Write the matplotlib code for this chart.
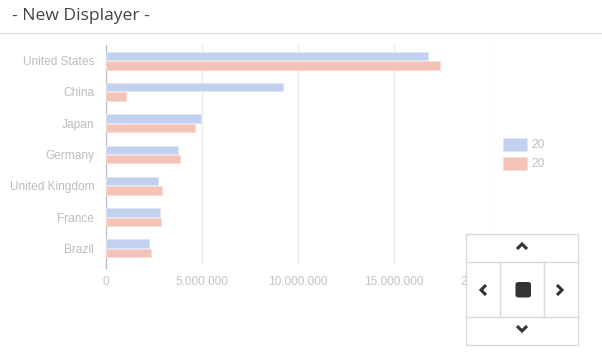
import matplotlib
matplotlib.use("Agg")
import matplotlib.pyplot as plt
import numpy as np
from matplotlib.patches import Rectangle, FancyBboxPatch
from matplotlib.lines import Line2D
from matplotlib.ticker import FuncFormatter

countries = ["United States", "China", "Japan", "Germany", "United Kingdom", "France", "Brazil"]
series_labels = ["20", "20"]
values_a = [16.77e6, 9.22e6, 4.93e6, 3.73e6, 2.69e6, 2.81e6, 2.24e6]
values_b = [17.40e6, 1.03e6, 4.64e6, 3.85e6, 2.92e6, 2.86e6, 2.34e6]
x_ticks = [0, 5e6, 10e6, 15e6, 20e6]

W, H = 602, 361
fig = plt.figure(figsize=(W / 100, H / 100), dpi=100)
plt.rcParams['font.family'] = ['Liberation Sans', 'DejaVu Sans']


def fx(px):
    return px / W


def fy(py):
    return 1 - py / H


# header
fig.text(fx(12), fy(16), "- New Displayer -", fontsize=12.6, color="#444444",
         family="Open Sans", va="center", ha="left")
fig.add_artist(Line2D([0, 1], [fy(33), fy(33)], transform=fig.transFigure,
                      color="#e0e0e0", lw=1))

ax = fig.add_axes([fx(106), fy(264), fx(490) - fx(106), fy(45) - fy(264)])

y = np.arange(len(countries))
h = 0.27
blue = "#c2d1f0"
red = "#f4c3b8"
ax.barh(y - 0.15, values_a, height=h, color=blue, edgecolor="#dde6f8", lw=0.6,
        label=series_labels[0], zorder=3)
ax.barh(y + 0.15, values_b, height=h, color=red, edgecolor="#f9dcd4", lw=0.6,
        label=series_labels[1], zorder=3)

ax.set_ylim(6.5, -0.5)
ax.set_xlim(0, 20e6)
ax.set_yticks(y)
ax.set_yticklabels(countries)
ax.set_xticks(x_ticks)
ax.xaxis.set_major_formatter(FuncFormatter(lambda v, p: f"{int(v):,}".replace(",", ".")))
ax.tick_params(axis="y", length=0, pad=8.5, labelsize=8.6, labelcolor="#bdbdbd")
ax.tick_params(axis="x", length=0, pad=8.5, labelsize=8.6, labelcolor="#c4c4c4")
ax.grid(axis="x", color="#eeeeee", lw=1, zorder=0)
for s in ["top", "right", "bottom"]:
    ax.spines[s].set_visible(False)
ax.spines["left"].set_color("#bbbbbb")
ax.axvline(0, ymin=-0.02, ymax=0, color="#bbbbbb", lw=1, clip_on=False)

ax.legend(loc="center left", bbox_to_anchor=(fx(497), fy(154)),
          bbox_transform=fig.transFigure, frameon=False, fontsize=8.6,
          labelcolor="#bdbdbd", handlelength=2.0, handleheight=1.35,
          labelspacing=0.45, handletextpad=0.35, borderpad=0)

# navigation widget
gray = "#d9d9d9"
fig.add_artist(Rectangle((fx(466), fy(345)), fx(578) - fx(466), fy(234) - fy(345),
                         transform=fig.transFigure, facecolor="white", edgecolor=gray, lw=1, zorder=5))
for yy in [262, 317]:
    fig.add_artist(Line2D([fx(466), fx(578)], [fy(yy), fy(yy)], transform=fig.transFigure,
                          color=gray, lw=1, zorder=6))
for xx in [500, 544]:
    fig.add_artist(Line2D([fx(xx), fx(xx)], [fy(262), fy(317)], transform=fig.transFigure,
                          color=gray, lw=1, zorder=6))
dark = "#333333"
chevrons = [
    ([517, 522, 527], [249, 244, 249]),
    ([527, 522, 517], [326, 331, 326]),
    ([486, 481, 486], [285, 290, 295]),
    ([557, 562, 557], [285, 290, 295]),
]
for xs, ys in chevrons:
    fig.add_artist(Line2D([fx(v) for v in xs], [fy(v) for v in ys], transform=fig.transFigure,
                          color=dark, lw=2.2, solid_capstyle="butt", solid_joinstyle="miter", zorder=7))
fig.add_artist(FancyBboxPatch((fx(515.5), fy(297.5)), fx(531) - fx(515.5), fy(282) - fy(297.5),
                              boxstyle="round,pad=0,rounding_size=0.006",
                              transform=fig.transFigure, facecolor=dark, edgecolor="none", zorder=7))

fig.savefig("out.png", dpi=100)
